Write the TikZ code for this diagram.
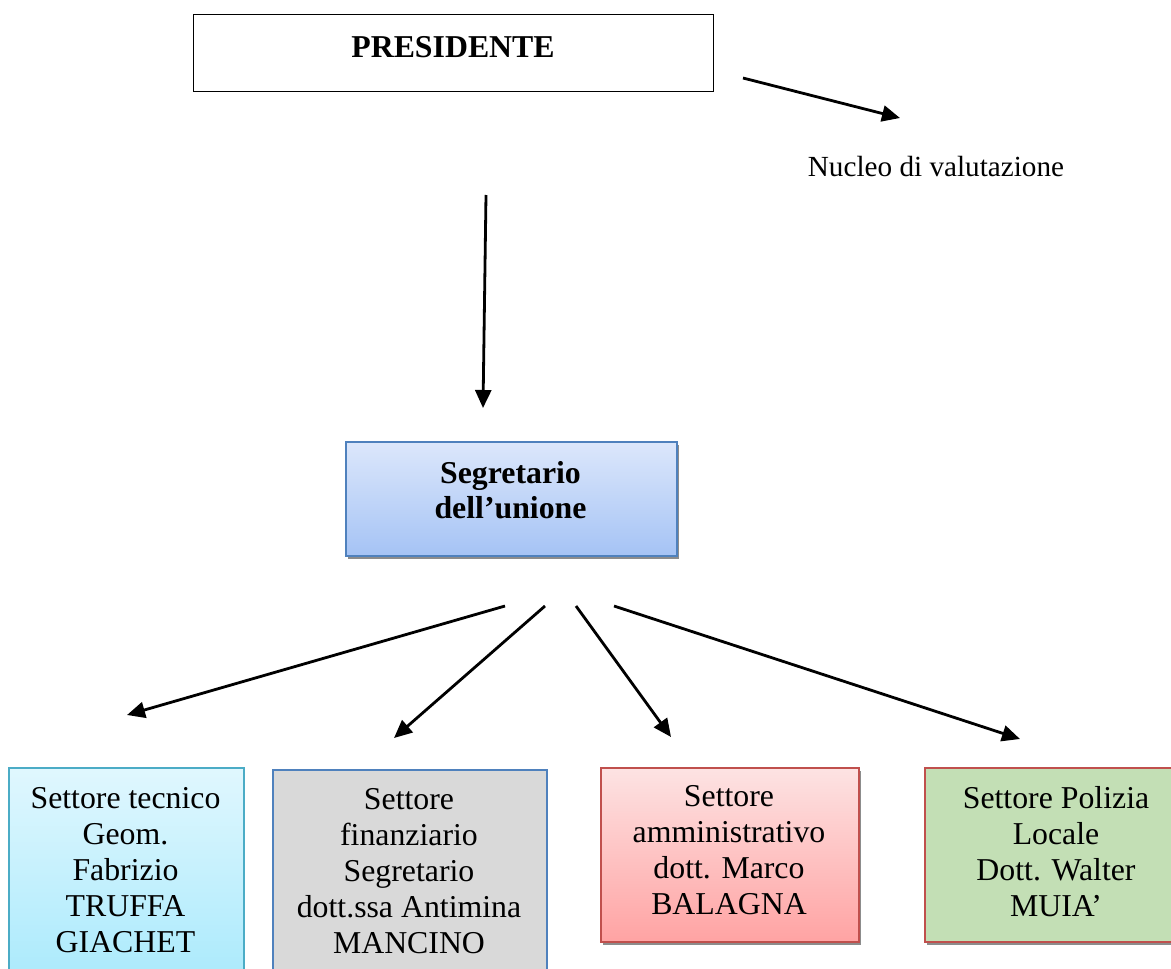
\documentclass[tikz,border=0pt]{standalone}
\usepackage{fontspec}
\setmainfont{Liberation Serif}
\usetikzlibrary{arrows.meta,shadows}
\definecolor{segTop}{HTML}{DCE7FB}
\definecolor{segBot}{HTML}{A5C3F5}
\definecolor{segLine}{HTML}{4F81BD}
\definecolor{tecTop}{HTML}{E0F7FE}
\definecolor{tecBot}{HTML}{A6E9FC}
\definecolor{tecLine}{HTML}{4BACC6}
\definecolor{finFill}{HTML}{D9D9D9}
\definecolor{ammTop}{HTML}{FDE3E3}
\definecolor{ammBot}{HTML}{FFA3A3}
\definecolor{redLine}{HTML}{C0504D}
\definecolor{polFill}{HTML}{C3DFB5}
\begin{document}
\begin{tikzpicture}[x=1pt,y=-1pt,
  conn/.style={line width=2.8pt,-{Triangle[length=18pt,width=16pt]}},
  boxbase/.style={rectangle,anchor=north west,inner sep=0pt,line width=1.8pt},
  shad/.style={drop shadow={shadow xshift=2pt,shadow yshift=-3pt,fill=black!45,opacity=1}},
  txt/.style={inner sep=0pt,align=center,anchor=north,font=\fontsize{31.8}{36}\selectfont},
  btxt/.style={inner sep=0pt,align=center,anchor=north,font=\fontsize{31.8}{35}\selectfont\bfseries}
]
\useasboundingbox (0,0) rectangle (1171,969);
\clip (0,0) rectangle (1171,969);
\fill[white] (0,0) rectangle (1171,969);

% PRESIDENTE
\node[boxbase,draw=black,line width=1.4pt,fill=white,minimum width=520pt,minimum height=77pt] (pres) at (193,14) {};
\node[inner sep=0pt,anchor=base,font=\fontsize{31.8}{36}\selectfont\bfseries] (prest) at (453,57) {PRESIDENTE};

% Nucleo
\node[inner sep=0pt,anchor=base,font=\fontsize{29.2}{34}\selectfont] (nucleo) at (936,176) {Nucleo di valutazione};

% Segretario
\node[boxbase,shad,draw=segLine,top color=segTop,bottom color=segBot,minimum width=331pt,minimum height=114pt] (segr) at (345,441) {};
\node[btxt] (segrt) at (510.5,461.5) {Segretario\\dell’unione};

% Bottom boxes
\node[boxbase,draw=tecLine,top color=tecTop,bottom color=tecBot,minimum width=235pt,minimum height=230pt] (tec) at (8,767) {};
\node[txt] (tect) at (125.5,787.6) {Settore tecnico\\Geom.\\Fabrizio\\TRUFFA\\GIACHET};

\node[boxbase,draw=segLine,fill=finFill,minimum width=274pt,minimum height=230pt] (fin) at (272,769) {};
\node[txt] (fint) at (409,788.6) {Settore\\finanziario\\Segretario\\dott.ssa Antimina\\MANCINO};

\node[boxbase,shad,draw=redLine,top color=ammTop,bottom color=ammBot,minimum width=258pt,minimum height=174pt] (amm) at (600,767) {};
\node[txt] (ammt) at (729,785.6) {Settore\\amministrativo\\dott. Marco\\BALAGNA};

\node[boxbase,shad,draw=redLine,fill=polFill,minimum width=264pt,minimum height=174pt] (pol) at (924,767) {};
\node[txt] (polt) at (1056,786.6) {Settore Polizia\\Locale\\Dott. Walter\\MUIA’};

% connector end points
\coordinate (p1) at (743,78);
\coordinate (p2) at (900,118);
\coordinate (v1) at (486,195);
\coordinate (v2) at (483,408);
\coordinate (s1) at (505,606);
\coordinate (t1) at (127,715);
\coordinate (s2) at (545,606);
\coordinate (t2) at (394,738);
\coordinate (s3) at (576,606);
\coordinate (t3) at (671,737);
\coordinate (s4) at (614,606);
\coordinate (t4) at (1020,739);

\draw[conn] (p1) -- (p2);
\draw[conn] (v1) -- (v2);
\draw[conn] (s1) -- (t1);
\draw[conn] (s2) -- (t2);
\draw[conn] (s3) -- (t3);
\draw[conn] (s4) -- (t4);
\end{tikzpicture}
\end{document}
